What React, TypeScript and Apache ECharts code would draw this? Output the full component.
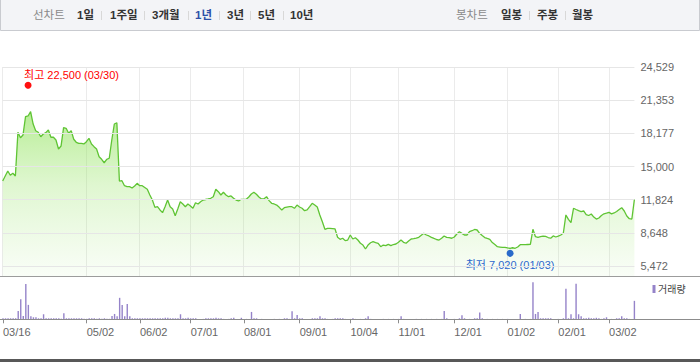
import React, { useEffect, useRef } from 'react';
import * as echarts from 'echarts';

// ---------- DATA ----------
const tradingDays: [string, number[]][] = [
  ['2022-03', [16, 17, 18, 21, 22, 23, 24, 25, 28, 29, 30, 31]],
  ['2022-04', [1, 4, 5, 6, 7, 8, 11, 12, 13, 14, 15, 18, 19, 20, 21, 22, 25, 26, 27, 28, 29]],
  ['2022-05', [2, 3, 4, 6, 9, 10, 11, 12, 13, 16, 17, 18, 19, 20, 23, 24, 25, 26, 27, 30, 31]],
  ['2022-06', [2, 3, 7, 8, 9, 10, 13, 14, 15, 16, 17, 20, 21, 22, 23, 24, 27, 28, 29, 30]],
  ['2022-07', [1, 4, 5, 6, 7, 8, 11, 12, 13, 14, 15, 18, 19, 20, 21, 22, 25, 26, 27, 28, 29]],
  ['2022-08', [1, 2, 3, 4, 5, 8, 9, 10, 11, 12, 16, 17, 18, 19, 22, 23, 24, 25, 26, 29, 30, 31]],
  ['2022-09', [1, 2, 5, 6, 7, 8, 13, 14, 15, 16, 19, 20, 21, 22, 23, 26, 27, 28, 29, 30]],
  ['2022-10', [4, 5, 6, 7, 11, 12, 13, 14, 17, 18, 19, 20, 21, 24, 25, 26, 27, 28, 31]],
  ['2022-11', [1, 2, 3, 4, 7, 8, 9, 10, 11, 14, 15, 16, 17, 18, 21, 22, 23, 24, 25, 28, 29, 30]],
  ['2022-12', [1, 2, 5, 6, 7, 8, 9, 12, 13, 14, 15, 16, 19, 20, 21, 22, 23, 26, 27, 28, 29]],
  ['2023-01', [2, 3, 4, 5, 6, 9, 10, 11, 12, 13, 16, 17, 18, 19, 20, 25, 26, 27, 30, 31]],
  ['2023-02', [1, 2, 3, 6, 7, 8, 9, 10, 13, 14, 15, 16, 17, 20, 21, 22, 23, 24, 27, 28]],
  ['2023-03', [2, 3, 6, 7, 8, 9, 10, 13, 14, 15, 16]],
];

const dates: string[] = tradingDays.flatMap(([ym, days]) =>
  days.map((d) => `${ym}-${String(d).padStart(2, '0')}`)
);

const closePrices: number[] = [
  13610, 14090, 14570, 14160, 14350, 14090, 18280, 17760, 18020, 19770,
  19840, 20250, 19070, 18430, 18280, 17850, 18110, 18240, 18500, 17800,
  17800, 17540, 16680, 16960, 18720, 18660, 18180, 18430, 17610, 17320,
  17220, 17220, 17160, 17380, 17700, 17160, 16900, 16680, 15940, 15690,
  15360, 15690, 15790, 17540, 19070, 19190, 13610, 13640, 13160, 13070,
  13070, 12940, 13130, 13390, 13160, 13160, 12990, 12820, 12270, 11790,
  11090, 11150, 10840, 10580, 11150, 11790, 11150, 10930, 10290, 10930,
  11630, 11410, 11150, 11410, 11220, 11000, 11530, 11410, 11630, 11790,
  11840, 11890, 11960, 12110, 12820, 12590, 12270, 12530, 12270, 12110,
  12180, 11960, 11790, 11700, 11860, 11860, 11860, 12080, 12370, 12530,
  12340, 12080, 11890, 11920, 12110, 11730, 11480, 11410, 11310, 11090,
  10840, 11060, 11120, 11150, 11150, 11000, 11310, 11120, 11000, 10770,
  10840, 11150, 11480, 11310, 11120, 10360, 9710, 8990, 9080, 9080,
  9060, 9020, 8220, 8030, 8130, 7900, 7960, 8440, 8060, 8180,
  7960, 7650, 7480, 7100, 7480, 7700, 7800, 7720, 7650, 7320,
  7480, 7420, 7550, 7420, 7530, 7580, 7740, 7960, 7740, 7650,
  7870, 8060, 8090, 8150, 8220, 8410, 8600, 8440, 8350, 8220,
  8110, 8010, 7960, 8130, 8350, 8220, 8180, 8130, 8250, 8540,
  8760, 8600, 8440, 8440, 8760, 8850, 8970, 8920, 8600, 8390,
  8200, 8110, 8030, 7720, 7530, 7320, 7290, 7260, 7260, 7200,
  7170, 7220, 7170, 7290, 7510, 7510, 7510, 7530, 7550, 8990,
  8280, 8220, 8280, 8330, 8300, 8200, 8130, 8350, 8250, 8330,
  8440, 8630, 10360, 9940, 9620, 11000, 10880, 10770, 10690, 10740,
  10400, 10310, 10450, 10160, 9970, 10070, 10310, 10470, 10530, 10610,
  10470, 10550, 10690, 10880, 11060, 10740, 10260, 10000, 9970, 11860,
];

// volume (thousand shares)
const volumes: number[] = [
  100, 100, 100, 100, 100, 100, 830, 2000, 330, 3500,
  1430, 300, 200, 200, 100, 100, 500, 100, 100, 100,
  100, 100, 100, 60, 600, 100, 100, 100, 100, 100,
  100, 100, 50, 50, 100, 100, 100, 50, 100, 50,
  100, 50, 50, 330, 530, 300, 2130, 1430, 300, 1530,
  300, 100, 100, 100, 100, 100, 100, 100, 100, 100,
  100, 100, 100, 100, 150, 150, 100, 100, 100, 100,
  500, 100, 100, 150, 100, 100, 100, 40, 40, 40,
  100, 100, 100, 100, 150, 100, 100, 40, 40, 40,
  100, 150, 40, 40, 150, 40, 40, 40, 730, 100,
  100, 40, 40, 40, 40, 40, 40, 40, 40, 40,
  40, 100, 100, 40, 800, 100, 430, 100, 100, 40,
  40, 40, 100, 100, 100, 300, 100, 100, 40, 40,
  40, 100, 100, 100, 100, 40, 40, 40, 100, 40,
  40, 40, 40, 100, 300, 40, 40, 40, 40, 40,
  40, 40, 40, 40, 40, 40, 40, 300, 40, 40,
  40, 40, 40, 40, 40, 40, 40, 40, 40, 40,
  40, 40, 40, 40, 830, 100, 40, 40, 40, 40,
  100, 400, 100, 40, 40, 40, 100, 100, 670, 100,
  40, 40, 40, 40, 40, 40, 40, 40, 40, 40,
  40, 40, 40, 40, 530, 40, 40, 40, 40, 3670,
  530, 730, 100, 100, 100, 100, 100, 40, 40, 40,
  40, 100, 3030, 100, 500, 100, 3530, 500, 300, 100,
  100, 150, 100, 100, 150, 100, 40, 100, 200, 40,
  40, 40, 100, 100, 300, 100, 100, 40, 40, 1830,
];

const yTicks: number[] = [5472, 8648, 11824, 15000, 18177, 21353, 24529];
const xTickDates: string[] = [
  '2022-03-16', '2022-05-02', '2022-06-02', '2022-07-01', '2022-08-01', '2022-09-01',
  '2022-10-04', '2022-11-01', '2022-12-01', '2023-01-02', '2023-02-01', '2023-03-02',
];
const highPoint = { label: '최고', date: '2022-03-30', value: 22500 };
const lowPoint = { label: '최저', date: '2023-01-03', value: 7020 };
const periodButtons: string[] = ['1일', '1주일', '3개월', '1년', '3년', '5년', '10년'];
const selectedPeriod = '1년';
const candleButtons: string[] = ['일봉', '주봉', '월봉'];
const volumeName = '거래량';

// ---------- HELPERS ----------
const FONT = '"Liberation Sans", "Noto Sans CJK KR", sans-serif';
const fmt = (v: number) => Math.round(v).toLocaleString('en-US');
const mmdd = (d: string) => d.slice(5).replace('-', '/');
const tickSet = new Set(xTickDates);
const isTick = (_i: number, v: string) => tickSet.has(v);

export default function App() {
  const ref = useRef<HTMLDivElement>(null);

  useEffect(() => {
    document.body.style.margin = '0';
    if (!ref.current) return;
    const chart = echarts.init(ref.current, undefined, { renderer: 'svg' });

    const periodX = [77, 110, 152, 195, 227, 258, 290];
    const periodSep = [101.5, 144.5, 188.5, 219.5, 250.5, 283.5];
    const candleX = [501, 537, 572];
    const candleSep = [529.5, 565.5];

    const graphics: any[] = [
      {
        type: 'rect',
        shape: { x: 0.5, y: -1, width: 699, height: 31.5 },
        style: { fill: '#f3f4f7', stroke: '#c9cbd0', lineWidth: 1 },
        silent: true,
      },
      {
        type: 'text', x: 33, y: 15,
        style: { text: '선차트', fill: '#8a8a8a', font: `11.5px ${FONT}`, verticalAlign: 'middle' },
      },
      {
        type: 'text', x: 456, y: 15,
        style: { text: '봉차트', fill: '#8a8a8a', font: `11.5px ${FONT}`, verticalAlign: 'middle' },
      },
      ...periodButtons.map((t, i) => ({
        type: 'text', x: periodX[i], y: 15,
        style: {
          text: t,
          fill: t === selectedPeriod ? '#2d50a8' : '#333',
          font: `bold 11.5px ${FONT}`,
          verticalAlign: 'middle',
        },
      })),
      ...candleButtons.map((t, i) => ({
        type: 'text', x: candleX[i], y: 15,
        style: { text: t, fill: '#333', font: `bold 11.5px ${FONT}`, verticalAlign: 'middle' },
      })),
      ...[...periodSep, ...candleSep].map((x) => ({
        type: 'line',
        shape: { x1: x, y1: 11, x2: x, y2: 20 },
        style: { stroke: '#d8d8d8', lineWidth: 1 },
        silent: true,
      })),
      {
        type: 'line',
        shape: { x1: 0, y1: 276.5, x2: 700, y2: 276.5 },
        style: { stroke: '#9c9c9c', lineWidth: 1 },
        silent: true, z: 10,
      },
      {
        type: 'line',
        shape: { x1: 0, y1: 319.5, x2: 700, y2: 319.5 },
        style: { stroke: '#8c8c8c', lineWidth: 1 },
        silent: true, z: 10,
      },
      {
        type: 'rect',
        shape: { x: 0, y: 359, width: 700, height: 3 },
        style: { fill: '#585858' },
        silent: true,
      },
      {
        type: 'rect',
        shape: { x: 652.5, y: 285, width: 3, height: 8 },
        style: { fill: '#9583c9' },
        silent: true,
      },
      {
        type: 'text', x: 658, y: 289.5,
        style: { text: volumeName, fill: '#444', font: `10px ${FONT}`, verticalAlign: 'middle' },
      },
    ];

    const option: any = {
      animation: false,
      backgroundColor: '#ffffff',
      grid: [
        { left: 2.7, right: 65.6, top: 67, bottom: 86 },
        { left: 2.7, right: 65.6, top: 282, bottom: 42.7 },
      ],
      xAxis: [
        {
          type: 'category', gridIndex: 0, data: dates, boundaryGap: false,
          axisLine: { show: false }, axisTick: { show: false }, axisLabel: { show: false },
          splitLine: { show: true, interval: isTick, lineStyle: { color: '#ebebeb', width: 1 } },
        },
        {
          type: 'category', gridIndex: 1, data: dates, boundaryGap: false,
          axisLine: { show: false },
          axisTick: { show: true, interval: isTick, length: 4, lineStyle: { color: '#8c8c8c' } },
          axisLabel: {
            show: true, interval: isTick, formatter: (v: string) => mmdd(v), align: 'left',
            margin: 7, color: '#666', fontSize: 11, fontFamily: FONT,
          },
          splitLine: { show: false },
        },
      ],
      yAxis: [
        {
          type: 'value', gridIndex: 0, position: 'right', min: 4515, max: 24529,
          axisLine: { show: false }, axisTick: { show: false, customValues: yTicks },
          splitLine: { show: false },
          axisLabel: {
            customValues: yTicks, formatter: (v: number) => fmt(v),
            color: '#666', fontSize: 11, margin: 6, fontFamily: FONT,
          },
        },
        { type: 'value', gridIndex: 1, min: 0, max: 3700, show: false, splitLine: { show: false } },
      ],
      series: [
        {
          type: 'line', xAxisIndex: 0, yAxisIndex: 0, data: closePrices,
          symbol: 'none', silent: true,
          lineStyle: { color: '#5fc434', width: 1.3 },
          areaStyle: {
            opacity: 1,
            color: new echarts.graphic.LinearGradient(0, 0, 0, 1, [
              { offset: 0, color: 'rgba(140,226,85,0.62)' },
              { offset: 0.45, color: 'rgba(150,228,100,0.3)' },
              { offset: 1, color: 'rgba(160,230,120,0.06)' },
            ]),
          },
          markLine: {
            silent: true, symbol: 'none', animation: false,
            label: { show: false },
            lineStyle: { color: '#e6e6e6', width: 1, type: 'solid', opacity: 1 },
            data: yTicks.map((v) => ({ yAxis: v })),
          },
        },
        {
          type: 'scatter', xAxisIndex: 0, yAxisIndex: 0,
          data: [[highPoint.date, highPoint.value]],
          symbolSize: 7, symbolOffset: [0, -3],
          itemStyle: { color: '#ff1010', opacity: 1 },
          label: {
            show: true, position: 'top', distance: 1, align: 'left', offset: [-4, 0],
            formatter: `${highPoint.label} ${fmt(highPoint.value)} (${mmdd(highPoint.date)})`,
            color: '#ff0000', fontSize: 11, fontFamily: FONT, opacity: 1,
          },
        },
        {
          type: 'scatter', xAxisIndex: 0, yAxisIndex: 0,
          data: [[lowPoint.date, lowPoint.value]],
          symbolSize: 7, symbolOffset: [0, 3.5],
          itemStyle: { color: '#1a5ad6', opacity: 1 },
          label: {
            show: true, position: 'bottom', distance: 2.5,
            formatter: `${lowPoint.label} ${fmt(lowPoint.value)} (${mmdd(lowPoint.date)})`,
            color: '#1a5ad6', fontSize: 11, fontFamily: FONT, opacity: 1,
          },
        },
        {
          type: 'bar', name: volumeName, xAxisIndex: 1, yAxisIndex: 1, data: volumes,
          barWidth: 1.4, itemStyle: { color: '#9583c9' }, silent: true,
        },
      ],
      graphic: graphics,
    };

    chart.setOption(option);
    return () => chart.dispose();
  }, []);

  return (
    <div
      ref={ref}
      style={{ position: 'absolute', left: 0, top: 0, width: 700, height: 362 }}
    />
  );
}
